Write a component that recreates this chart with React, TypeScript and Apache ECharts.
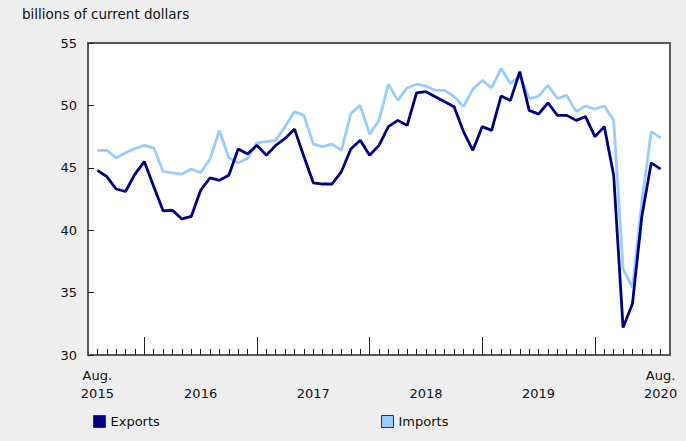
import React, { useEffect, useRef } from 'react';
import * as echarts from 'echarts';

// Category slots: Jul 2015 (edge) ... Sep 2020 (edge); data runs Aug 2015 - Aug 2020
const monthNames = ['Jan', 'Feb', 'Mar', 'Apr', 'May', 'Jun', 'Jul', 'Aug', 'Sep', 'Oct', 'Nov', 'Dec'];
const months: string[] = [];
for (let y = 2015; y <= 2020; y++) {
  for (let m = 0; m < 12; m++) {
    if ((y === 2015 && m < 6) || (y === 2020 && m > 8)) continue;
    months.push(monthNames[m] + ' ' + y);
  }
}

const exportsValues = [
  44.8, 44.3, 43.3, 43.1, 44.5, 45.5, 43.5, 41.55, 41.6, 40.9, 41.1, 43.2,
  44.2, 44.0, 44.4, 46.5, 46.1, 46.8, 46.0, 46.8, 47.35, 48.1, 45.9, 43.8,
  43.7, 43.7, 44.7, 46.5, 47.2, 46.0, 46.8, 48.3, 48.8, 48.4, 51.0, 51.1,
  50.7, 50.3, 49.9, 47.9, 46.4, 48.3, 48.0, 50.75, 50.4, 52.7, 49.6, 49.3,
  50.2, 49.2, 49.2, 48.8, 49.1, 47.5, 48.3, 44.4, 32.2, 34.1, 41.1, 45.4, 44.9,
];

const importsValues = [
  46.4, 46.4, 45.8, 46.2, 46.55, 46.8, 46.6, 44.7, 44.6, 44.5, 44.9, 44.6,
  45.7, 48.0, 45.8, 45.4, 45.75, 47.0, 47.1, 47.2, 48.3, 49.5, 49.2, 46.9,
  46.7, 46.9, 46.4, 49.35, 50.0, 47.7, 48.8, 51.7, 50.4, 51.4, 51.7, 51.55,
  51.2, 51.2, 50.7, 49.9, 51.3, 52.0, 51.4, 52.95, 51.75, 52.4, 50.55, 50.75,
  51.6, 50.55, 50.8, 49.5, 49.95, 49.7, 49.95, 48.8, 36.9, 35.4, 42.3, 47.9, 47.4,
];

const xTickLabels: Record<string, string> = {
  'Aug 2015': 'Aug.\n2015',
  'Jul 2016': '\n2016',
  'Jul 2017': '\n2017',
  'Jul 2018': '\n2018',
  'Jul 2019': '\n2019',
  'Aug 2020': 'Aug.\n2020',
};

const FONT = 'DejaVu Sans';

export default function App() {
  const ref = useRef<HTMLDivElement>(null);
  useEffect(() => {
    if (!ref.current) return;
    const chart = echarts.init(ref.current, undefined, { renderer: 'svg' });
    const gridRect = { left: 88, right: 16, top: 43, bottom: 86 };
    chart.setOption({
      animation: false,
      backgroundColor: '#eeeeee',
      title: {
        text: 'billions of current dollars',
        left: 17,
        top: 2,
        textStyle: { fontFamily: FONT, fontSize: 13.5, fontWeight: 'normal', color: '#111' },
      },
      legend: [
        {
          left: 88,
          top: 410,
          data: ['Exports'],
          icon: 'rect',
          itemWidth: 12,
          itemHeight: 12,
          itemGap: 5,
          itemStyle: { borderColor: '#333', borderWidth: 1 },
          textStyle: { fontFamily: FONT, fontSize: 13, color: '#111' },
        },
        {
          left: 376,
          top: 410,
          data: ['Imports'],
          icon: 'rect',
          itemWidth: 12,
          itemHeight: 12,
          itemGap: 5,
          itemStyle: { borderColor: '#333', borderWidth: 1 },
          textStyle: { fontFamily: FONT, fontSize: 13, color: '#111' },
        },
      ],
      grid: [
        { ...gridRect, show: true, backgroundColor: '#ffffff', borderColor: '#5a5a5a', borderWidth: 2 },
        { ...gridRect, show: false },
      ],
      xAxis: [
        {
          type: 'category',
          gridIndex: 0,
          data: months,
          boundaryGap: false,
          axisLine: { show: true, lineStyle: { color: '#5a5a5a', width: 2 } },
          axisTick: {
            show: true,
            inside: true,
            length: 6,
            interval: (idx: number) => idx >= 1 && idx <= months.length - 2,
            lineStyle: { color: '#222', width: 1 },
          },
          axisLabel: { show: false },
          splitLine: { show: false },
        },
        {
          type: 'category',
          gridIndex: 1,
          data: months,
          boundaryGap: false,
          axisLine: { show: false },
          axisTick: {
            show: true,
            inside: true,
            length: 18,
            interval: (_idx: number, value: string) => value.startsWith('Jan'),
            lineStyle: { color: '#222', width: 1 },
          },
          axisLabel: {
            show: true,
            interval: (_idx: number, value: string) => value in xTickLabels,
            formatter: (value: string) => xTickLabels[value] || '',
            fontFamily: FONT,
            fontSize: 13,
            color: '#111',
            lineHeight: 18,
            margin: 11,
          },
          splitLine: { show: false },
        },
      ],
      yAxis: [
        {
          type: 'value',
          gridIndex: 0,
          min: 30,
          max: 55,
          interval: 5,
          axisLine: { show: true, lineStyle: { color: '#5a5a5a', width: 2 } },
          axisTick: { show: true, inside: true, length: 6, lineStyle: { color: '#222', width: 1 } },
          axisLabel: { fontFamily: FONT, fontSize: 13, color: '#111', margin: 11 },
          splitLine: { show: false },
        },
        { type: 'value', gridIndex: 1, min: 30, max: 55, show: false },
      ],
      series: [
        {
          name: 'Imports',
          type: 'line',
          xAxisIndex: 0,
          yAxisIndex: 0,
          data: [null, ...importsValues, null],
          symbol: 'none',
          color: '#99ccff',
          lineStyle: { color: '#99ccff', width: 2.8 },
        },
        {
          name: 'Exports',
          type: 'line',
          xAxisIndex: 0,
          yAxisIndex: 0,
          data: [null, ...exportsValues, null],
          symbol: 'none',
          color: '#000080',
          lineStyle: { color: '#000080', width: 2.8 },
        },
      ],
    });
    return () => chart.dispose();
  }, []);
  return (
    <div
      ref={ref}
      style={{ position: 'fixed', left: 0, top: 0, width: 686, height: 441, background: '#eeeeee' }}
    />
  );
}
